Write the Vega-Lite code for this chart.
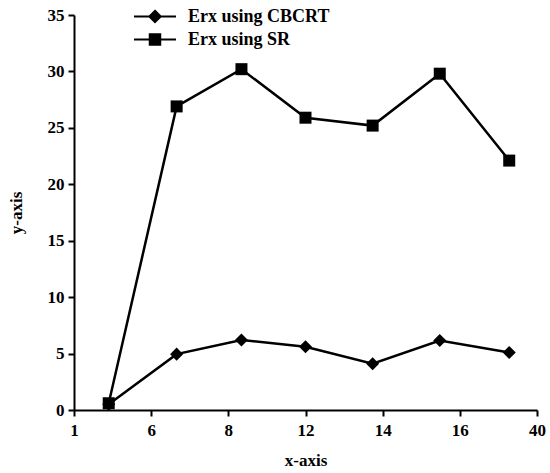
{
  "$schema": "https://vega.github.io/schema/vega-lite/v6.json",
  "width": 463,
  "height": 395,
  "autosize": {"type": "none"},
  "padding": {"left": 74, "top": 15, "right": 13, "bottom": 63},
  "background": "white",
  "config": {
    "view": {"stroke": null},
    "font": "Liberation Serif",
    "axis": {
      "domainColor": "black",
      "domainWidth": 2,
      "tickColor": "black",
      "tickWidth": 2,
      "tickSize": 6,
      "grid": false,
      "labelFont": "Liberation Serif",
      "labelFontWeight": "bold",
      "labelFontSize": 17,
      "labelColor": "black",
      "titleFont": "Liberation Serif",
      "titleFontWeight": "bold",
      "titleFontSize": 17,
      "titleColor": "black"
    }
  },
  "data": {
    "values": [
      {"series": "Erx using CBCRT", "x": 0.45, "y": 0.5},
      {"series": "Erx using CBCRT", "x": 1.33, "y": 4.95},
      {"series": "Erx using CBCRT", "x": 2.17, "y": 6.2},
      {"series": "Erx using CBCRT", "x": 3.0, "y": 5.6},
      {"series": "Erx using CBCRT", "x": 3.87, "y": 4.1},
      {"series": "Erx using CBCRT", "x": 4.74, "y": 6.15},
      {"series": "Erx using CBCRT", "x": 5.64, "y": 5.1},
      {"series": "Erx using SR", "x": 0.45, "y": 0.6},
      {"series": "Erx using SR", "x": 1.33, "y": 26.9},
      {"series": "Erx using SR", "x": 2.17, "y": 30.2},
      {"series": "Erx using SR", "x": 3.0, "y": 25.9},
      {"series": "Erx using SR", "x": 3.87, "y": 25.2},
      {"series": "Erx using SR", "x": 4.74, "y": 29.8},
      {"series": "Erx using SR", "x": 5.64, "y": 22.1}
    ]
  },
  "encoding": {
    "x": {
      "field": "x",
      "type": "quantitative",
      "scale": {"domain": [0, 6], "nice": false, "zero": false},
      "axis": {
        "title": "x-axis",
        "values": [0, 1, 2, 3, 4, 5, 6],
        "labelExpr": "['1','6','8','12','14','16','40'][datum.value]",
        "labelPadding": 6,
        "titlePadding": 14,
        "labelFlush": false
      }
    },
    "y": {
      "field": "y",
      "type": "quantitative",
      "scale": {"domain": [0, 35], "nice": false},
      "axis": {
        "title": "y-axis",
        "values": [0, 5, 10, 15, 20, 25, 30, 35],
        "labelPadding": 4,
        "titlePadding": 22
      }
    }
  },
  "layer": [
    {
      "mark": {"type": "line", "color": "black", "strokeWidth": 2.5},
      "encoding": {"detail": {"field": "series"}}
    },
    {
      "transform": [{"filter": "datum.series == 'Erx using CBCRT'"}],
      "mark": {"type": "point", "shape": "diamond", "filled": true, "color": "black", "size": 170, "opacity": 1}
    },
    {
      "transform": [{"filter": "datum.series == 'Erx using SR'"}],
      "mark": {"type": "point", "shape": "square", "filled": true, "color": "black", "size": 144, "opacity": 1}
    },
    {
      "transform": [{"filter": "false"}],
      "mark": {"type": "point", "filled": false, "color": "black", "strokeWidth": 2, "size": 1764, "opacity": 1},
      "encoding": {
        "shape": {
          "field": "series",
          "type": "nominal",
          "scale": {
            "domain": ["Erx using CBCRT", "Erx using SR"],
            "range": [
              "M-1,0H1M0,-0.27L0.27,0L0,0.27L-0.27,0ZM0,-0.18L0.18,0L0,0.18L-0.18,0ZM0,-0.09L0.09,0L0,0.09L-0.09,0Z",
              "M-1,0H1M-0.25,-0.25H0.25V0.25H-0.25ZM-0.17,-0.17H0.17V0.17H-0.17ZM-0.09,-0.09H0.09V0.09H-0.09Z"
            ]
          },
          "legend": {
            "title": null,
            "orient": "none",
            "legendX": 59,
            "legendY": -10,
            "padding": 0,
            "clipHeight": 23,
            "rowPadding": 0,
            "labelOffset": 11,
            "labelFont": "Liberation Serif",
            "labelFontWeight": "bold",
            "labelFontSize": 18,
            "labelColor": "black",
            "labelLimit": 400,
            "symbolSize": 1764,
            "symbolStrokeColor": "black",
            "symbolStrokeWidth": 2
          }
        }
      }
    }
  ]
}
